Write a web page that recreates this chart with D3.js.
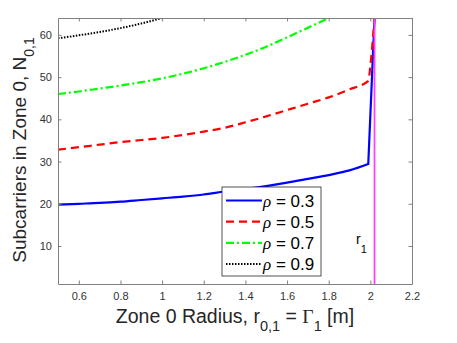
<!DOCTYPE html>
<html>
<head>
<meta charset="utf-8">
<script src="https://cdn.jsdelivr.net/npm/d3@7"></script>
<style>
  body { margin: 0; background: #fff; }
  svg { font-family: "Liberation Sans", Arial, Helvetica, sans-serif; }
  .tick text { fill: #333; font-size: 11px; }
</style>
</head>
<body>
<svg id="chart" width="457" height="343"></svg>
<script>
'use strict';

// series values
const rho = ['0.3', '0.5', '0.7', '0.9'];
const xBlue = [0.5, 0.6, 0.7, 0.8, 0.9, 1.0, 1.1, 1.2, 1.3, 1.4, 1.5, 1.6, 1.7, 1.8, 1.9, 1.99, 2.02];
const yBlue = [19.8, 20.0, 20.2, 20.5, 20.9, 21.3, 21.7, 22.2, 22.9, 23.5, 24.2, 25.0, 25.9, 26.8, 27.9, 29.4, 64];
const xRed = [0.5, 0.6, 0.7, 0.8, 0.9, 1.0, 1.1, 1.2, 1.3, 1.4, 1.5, 1.6, 1.7, 1.8, 1.9, 1.99, 2.0, 2.013, 2.02];
const yRed = [32.8, 33.4, 34.0, 34.6, 35.1, 35.6, 36.3, 37.1, 38.0, 39.3, 40.7, 42.2, 43.7, 45.2, 47.1, 49.1, 52.6, 59.6, 64];
const xGreen = [0.5, 0.6, 0.7, 0.8, 0.9, 1.0, 1.1, 1.2, 1.3, 1.4, 1.5, 1.6, 1.7, 1.8];
const yGreen = [46.0, 46.6, 47.3, 48.0, 48.8, 49.7, 50.8, 52.1, 53.6, 55.3, 57.2, 59.4, 61.7, 64.0];
const xBlack = [0.5, 0.6, 0.7, 0.8, 0.9, 1.0];
const yBlack = [59.2, 59.9, 60.7, 61.6, 62.7, 64.0];
const r1 = 2.02;
const xTicks = [0.6, 0.8, 1, 1.2, 1.4, 1.6, 1.8, 2, 2.2];
const yTicks = [10, 20, 30, 40, 50, 60];

const series = [
  { name: rho[0], xs: xBlue, ys: yBlue, color: '#0000ff', width: 2.2, dash: null },
  { name: rho[1], xs: xRed, ys: yRed, color: '#ff0000', width: 2.2, dash: '8,5' },
  { name: rho[2], xs: xGreen, ys: yGreen, color: '#00ff00', width: 2.2, dash: '8,3,2,3' },
  { name: rho[3], xs: xBlack, ys: yBlack, color: '#000000', width: 2, dash: '1.5,1.5' },
];

const W = 457, H = 343;
const m = { left: 58, right: 45, top: 18, bottom: 59 };
const svg = d3.select('#chart');

const x = d3.scaleLinear().domain([0.5, 2.2]).range([m.left, W - m.right]);
const y = d3.scaleLinear().domain([1, 64]).range([H - m.bottom, m.top]);

svg.append('defs').append('clipPath').attr('id', 'clip')
  .append('rect')
  .attr('x', m.left).attr('y', m.top)
  .attr('width', W - m.left - m.right).attr('height', H - m.top - m.bottom);

const line = d3.line().x(d => x(d[0])).y(d => y(d[1])).curve(d3.curveMonotoneX);

const plot = svg.append('g').attr('clip-path', 'url(#clip)');
series.forEach(s => {
  const pts = s.xs.map((v, i) => [v, s.ys[i]]);
  // blue jumps straight up at the end, draw that part unsmoothed
  const path = s === series[0]
    ? line(pts.slice(0, -1)) + 'L' + x(pts[pts.length - 1][0]) + ',' + y(pts[pts.length - 1][1])
    : line(pts);
  plot.append('path')
    .attr('d', path)
    .attr('fill', 'none')
    .attr('stroke', s.color)
    .attr('stroke-width', s.width)
    .attr('stroke-dasharray', s.dash);
});

// r1 marker
plot.append('line')
  .attr('x1', x(r1)).attr('x2', x(r1))
  .attr('y1', y(1)).attr('y2', y(64))
  .attr('stroke', '#ff40ff').attr('stroke-width', 1.8);

const r1Label = svg.append('text')
  .attr('x', x(r1) - 18.5).attr('y', 244)
  .attr('font-size', 14).attr('fill', '#000');
r1Label.append('tspan').text('r');
r1Label.append('tspan').attr('dy', 9).attr('font-size', 11).text('1');

// axes with inward ticks, box on all sides
const axisColor = '#808080';
const tl = 3.5;
const gx = svg.append('g').attr('transform', `translate(0,${H - m.bottom})`)
  .call(d3.axisBottom(x).tickValues(xTicks).tickSizeInner(-tl).tickSizeOuter(0).tickPadding(8)
    .tickFormat(d3.format('')));
const gxt = svg.append('g').attr('transform', `translate(0,${m.top})`)
  .call(d3.axisTop(x).tickValues(xTicks).tickSizeInner(-tl).tickSizeOuter(0).tickFormat(''));
const gy = svg.append('g').attr('transform', `translate(${m.left},0)`)
  .call(d3.axisLeft(y).tickValues(yTicks).tickSizeInner(-tl).tickSizeOuter(0).tickPadding(6));
const gyr = svg.append('g').attr('transform', `translate(${W - m.right},0)`)
  .call(d3.axisRight(y).tickValues(yTicks).tickSizeInner(-tl).tickSizeOuter(0).tickFormat(''));
[gx, gxt, gy, gyr].forEach(g => {
  g.select('.domain').attr('stroke', axisColor);
  g.selectAll('.tick line').attr('stroke', axisColor);
});

// axis titles
const xt = svg.append('text')
  .attr('x', (m.left + W - m.right) / 2).attr('y', 322.5)
  .attr('text-anchor', 'middle').attr('font-size', 19.5).attr('fill', '#262626');
xt.append('tspan').text('Zone 0 Radius, r');
xt.append('tspan').attr('dy', 8).attr('font-size', 14.5).text('0,1');
xt.append('tspan').attr('dy', -8).text(' = ');
xt.append('tspan').attr('font-family', '"Liberation Serif", "DejaVu Serif", serif').text('Γ');
xt.append('tspan').attr('dy', 8).attr('font-size', 14.5).text('1');
xt.append('tspan').attr('dy', -8).text(' [m]');

const yt = svg.append('text')
  .attr('transform', `translate(26,150) rotate(-90)`)
  .attr('text-anchor', 'middle').attr('font-size', 19).attr('fill', '#262626');
yt.append('tspan').text('Subcarriers in Zone 0, N');
yt.append('tspan').attr('dy', 8).attr('font-size', 14).text('0,1');

// legend
const lg = svg.append('g').attr('transform', 'translate(222,187)');
lg.append('rect').attr('width', 99).attr('height', 89)
  .attr('fill', '#fff').attr('stroke', '#262626').attr('stroke-width', 0.8);
series.forEach((s, i) => {
  const yy = 13.5 + i * 21.2;
  lg.append('line')
    .attr('x1', 4).attr('x2', 40).attr('y1', yy).attr('y2', yy)
    .attr('stroke', s.color).attr('stroke-width', s.width)
    .attr('stroke-dasharray', s.dash);
  const t = lg.append('text').attr('x', 41).attr('y', yy + 6).attr('font-size', 17).attr('fill', '#000');
  t.append('tspan').attr('font-family', '"Liberation Serif", "DejaVu Serif", serif')
    .attr('font-style', 'italic').text('ρ');
  t.append('tspan').text(' = ' + s.name);
});
</script>
</body>
</html>
